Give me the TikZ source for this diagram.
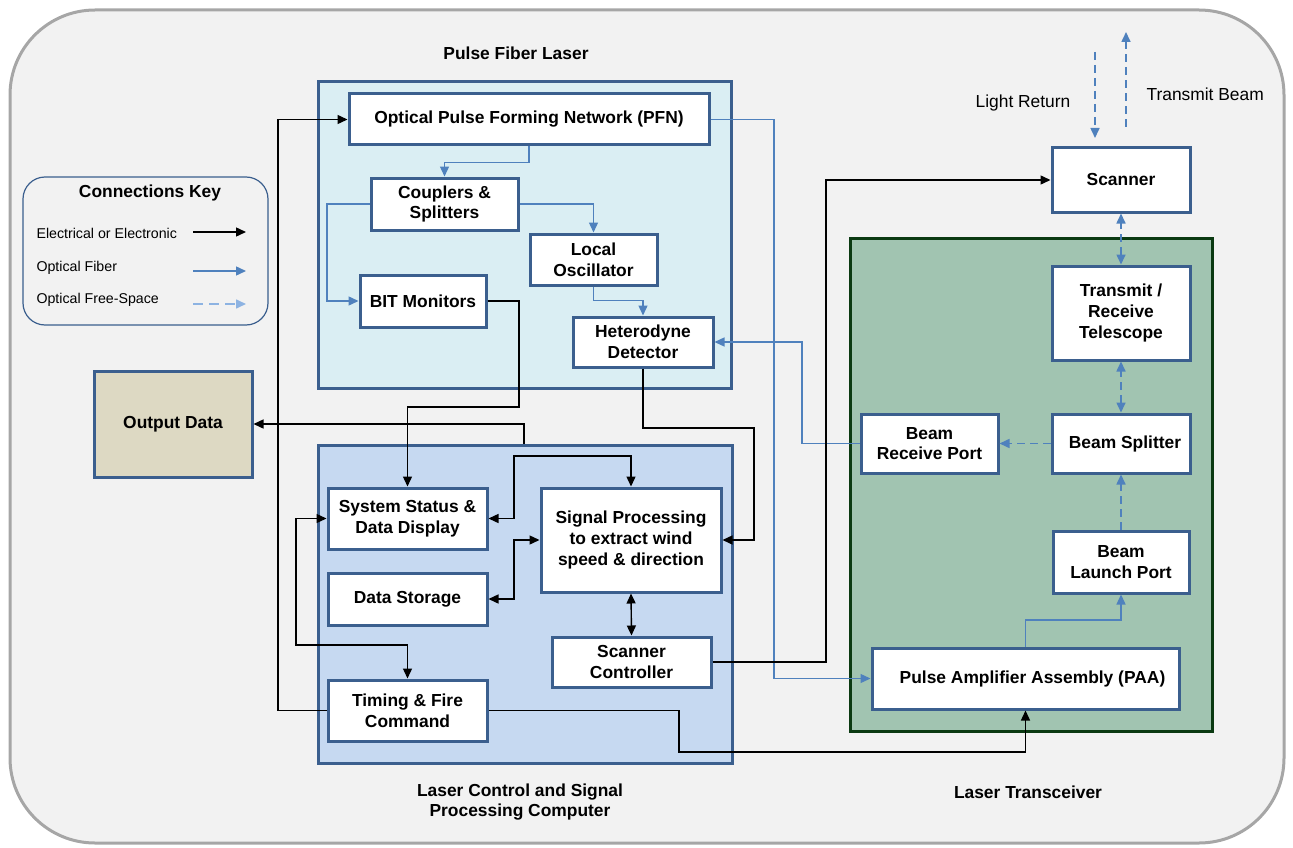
\documentclass[tikz,border=0pt]{standalone}
\usepackage{fontspec}
\setmainfont{Liberation Sans}
\usetikzlibrary{arrows.meta}
\definecolor{bord}{HTML}{3B5F8E}
\definecolor{fiber}{HTML}{4F81BD}
\definecolor{freekey}{HTML}{8DB3E2}
\definecolor{pflfill}{HTML}{DAEEF3}
\definecolor{lcsfill}{HTML}{C6D9F1}
\definecolor{trfill}{HTML}{A1C4B1}
\definecolor{trbord}{HTML}{0B3A12}
\definecolor{outfill}{HTML}{DDD9C3}
\definecolor{bgfill}{HTML}{F2F2F2}
\definecolor{bgbord}{HTML}{A6A6A6}
\begin{document}
\begin{tikzpicture}[x=1pt,y=-1pt,
  box/.style={draw=bord, line width=3pt, fill=white, inner sep=0pt, align=center,
    font=\bfseries\fontsize{17.4}{20.8}\selectfont},
  cont/.style={draw=bord, line width=3pt, inner sep=0pt},
  lbl/.style={align=center, font=\bfseries\fontsize{17.4}{20.8}\selectfont},
  keytxt/.style={anchor=west, font=\fontsize{14.2}{17}\selectfont},
  elec/.style={draw=black, line width=1.4pt},
  fib/.style={draw=fiber, line width=1.4pt},
  fre/.style={draw=fiber, line width=1.6pt, dash pattern=on 8pt off 5pt},
  arr/.style={-{Triangle[length=10pt,width=9pt]}},
  darr/.style={{Triangle[length=10pt,width=9pt]}-{Triangle[length=10pt,width=9pt]}}
]
\useasboundingbox (0,0) rectangle (1293,848);
% background
\draw[fill=bgfill, draw=bgbord, line width=3pt, rounded corners=85pt] (10,10) rectangle (1284,843);

% containers
\node[cont, fill=pflfill, minimum width=413pt, minimum height=306pt] (pfl) at (524.5,235) {};
\node[cont, fill=lcsfill, minimum width=414pt, minimum height=318pt] (lcs) at (525,604) {};
\node[draw=trbord, line width=3pt, inner sep=0pt, fill=trfill, minimum width=362pt, minimum height=493pt] (ltr) at (1031,484.5) {};

% container labels
\node[lbl] (lpfl) at (516,53) {Pulse Fiber Laser};
\node[lbl] (llcs) at (520,802) {Laser Control and Signal\\Processing Computer};
\node[lbl] (lltr) at (1028,792) {Laser Transceiver};

% key
\draw[draw=bord, line width=1.2pt, rounded corners=22pt] (23,177) rectangle (268,325);
\node[lbl] (keyt) at (150,193) {Connections Key};
\node[keytxt] (k1) at (33,233) {Electrical or Electronic};
\node[keytxt] (k2) at (33,268) {Optical Fiber};
\node[keytxt] (k3) at (33,300) {Optical Free-Space};
\coordinate (k1a) at (193,232); \coordinate (k1b) at (246,232);
\coordinate (k2a) at (193,271); \coordinate (k2b) at (246,271);
\coordinate (k3a) at (193,304); \coordinate (k3b) at (246,304);
\draw[elec, arr] (k1a) -- (k1b);
\draw[fib, arr] (k2a) -- (k2b);
\draw[draw=freekey, line width=1.6pt, dash pattern=on 10pt off 6pt, arr] (k3a) -- (k3b);

% nodes
\node[box, minimum width=360pt, minimum height=51pt] (pfn) at (529,119.5) {Optical Pulse Forming Network (PFN)};
\node[box, minimum width=147pt, minimum height=52pt] (coup) at (444.5,204) {Couplers \&\\Splitters};
\node[box, minimum width=127pt, minimum height=51pt] (lo) at (593.5,259.5) {Local\\Oscillator};
\node[box, minimum width=126pt, minimum height=52pt] (bit) at (423,301) {BIT Monitors};
\node[box, minimum width=140pt, minimum height=50pt] (het) at (643,342) {Heterodyne\\Detector};
\node[box, minimum width=159pt, minimum height=61pt] (sys) at (407.5,518.5) {System Status \&\\Data Display};
\node[box, minimum width=159pt, minimum height=52pt] (ds) at (407.5,599) {Data Storage};
\node[box, minimum width=159pt, minimum height=61pt] (tim) at (407.5,710.5) {Timing \& Fire\\Command};
\node[box, minimum width=180pt, minimum height=104pt] (sp) at (631,540) {Signal Processing\\to extract wind\\speed \& direction};
\node[box, minimum width=159pt, minimum height=50pt] (sc) at (631.5,662) {Scanner\\Controller};
\node[box, fill=outfill, minimum width=158pt, minimum height=106pt] (out) at (173,424) {Output Data};
\node[box, minimum width=138pt, minimum height=64pt] (scan) at (1121,180) {Scanner};
\node[box, minimum width=138pt, minimum height=94pt] (tel) at (1121,313) {Transmit /\\Receive\\Telescope};
\node[box, minimum width=138pt, minimum height=59pt] (bs) at (1121,443.5) {\hspace*{8pt}Beam Splitter};
\node[box, minimum width=137pt, minimum height=59pt] (brp) at (929.5,443.5) {Beam\\Receive Port};
\node[box, minimum width=136pt, minimum height=62pt] (blp) at (1121,562) {Beam\\Launch Port};
\node[box, minimum width=307pt, minimum height=61pt] (paa) at (1025.5,678.5) {\hspace*{14pt}Pulse Amplifier Assembly (PAA)};

% free-space labels
\node[font=\fontsize{17.4}{20.8}\selectfont] (lrt) at (1023,103) {Light Return};
\node[font=\fontsize{17.4}{20.8}\selectfont, anchor=west] (tbt) at (1143,94) {Transmit Beam};
\coordinate (lrA) at (1095,52); \coordinate (lrB) at (1095,138);
\coordinate (tbA) at (1126,127); \coordinate (tbB) at (1126,32);

% optical fiber connectors
\draw[fib, arr] (pfn.south) -- ++(0,16) -| (coup.north);
\draw[fib, arr] (coup.west) -- (327,204) |- (bit.west);
\draw[fib, arr] (coup.east) -| (lo.north);
\draw[fib, arr] (lo.south) -- ++(0,14) -| (het.north);
\draw[fib, arr] (brp.west) -- (802,443.5) |- (het.east);
\draw[fib, arr] (pfn.east) -- (774,119.5) |- (paa.west);
\draw[fib, arr] (paa.north) -- (1025.5,620) -| (blp.south);

% free-space connectors
\draw[fre, arr] (blp.north) -- (bs.south);
\draw[fre, arr] (bs.west) -- (brp.east);
\draw[fre, darr] (bs.north) -- (tel.south);
\draw[fre, darr] (tel.north) -- (scan.south);
\draw[fre, arr] (lrA) -- (lrB);
\draw[fre, arr] (tbA) -- (tbB);

% electrical connectors
\draw[elec, arr] (tim.west) -- (278,710.5) |- (pfn.west);
\draw[elec, arr] (bit.east) -| (519,407) -| (sys.north);
\draw[elec, arr] (524,0 |- lcs.north) |- (out.east);
\draw[elec, arr] (het.south) |- (754,428) |- (sp.east);
\draw[elec, darr] (sys.east) -| (514,456) -| (sp.north);
\draw[elec, darr] (ds.east) -| (514,540) -- (sp.west);
\draw[elec, darr] (sp.south) -- (sc.north);
\draw[elec, darr] (sys.west) -| (296,645) -| (tim.north);
\draw[elec, arr] (tim.east) -| (679,752) -| (paa.south);
\draw[elec, arr] (sc.east) -| (826,180) -- (scan.west);
\end{tikzpicture}
\end{document}
